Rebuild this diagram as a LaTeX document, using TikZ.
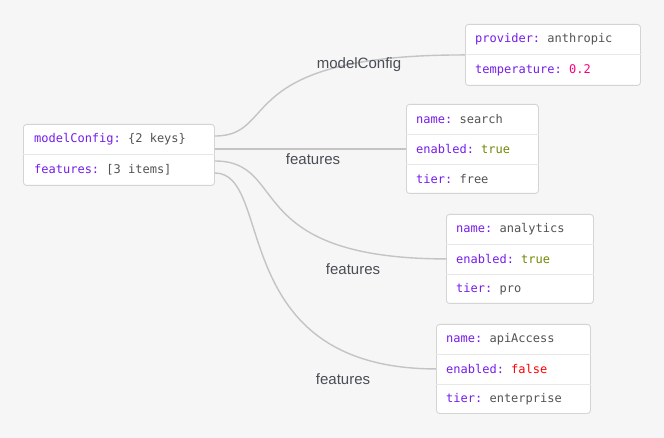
\documentclass[tikz,border=0pt]{standalone}
\usepackage{fontspec}
\setmainfont{Liberation Sans}
\setmonofont{DejaVu Sans Mono}

\definecolor{bgcol}{HTML}{F6F6F6}
\definecolor{keycol}{HTML}{761CEA}
\definecolor{valcol}{HTML}{535353}
\definecolor{truecol}{HTML}{748700}
\definecolor{falsecol}{HTML}{FF0000}
\definecolor{numcol}{HTML}{FD0079}
\definecolor{edgecol}{HTML}{C4C4C4}
\definecolor{labelcol}{HTML}{4A4D55}

\newcommand{\jkey}[1]{\textcolor{keycol}{#1}}
\newcommand{\jval}[1]{\textcolor{valcol}{#1}}

\begin{document}
\begin{tikzpicture}[x=1pt,y=-1pt,
  card/.style={draw=black!17, fill=white, rounded corners=3pt, line width=0.9pt,
    anchor=north west, inner sep=0pt},
  row/.style={anchor=west, inner sep=0pt, font=\ttfamily\fontsize{12}{14}\selectfont},
  divider/.style={draw=black!9, line width=0.8pt},
  edge/.style={draw=edgecol, line width=1.4pt},
  elabel/.style={text=labelcol, inner sep=0pt, font=\fontsize{15}{18}\selectfont}]

% Background
\fill[bgcol] (0,0) rectangle (664,438);

% Root object
\node[card, minimum width=191pt, minimum height=61pt] (root) at (23,124) {};
\draw[divider] (root.west |- 0,154) -- (root.east |- 0,154);
\node[row] (rootA) at (34,139) {\jkey{modelConfig:} \jval{\{2 keys\}}};
\node[row] (rootB) at (34,170) {\jkey{features:} \jval{[3 items]}};

% modelConfig object
\node[card, minimum width=175pt, minimum height=61pt] (prov) at (465,24) {};
\draw[divider] (prov.west |- 0,54) -- (prov.east |- 0,54);
\node[row] (provA) at (475,39) {\jkey{provider:} \jval{anthropic}};
\node[row] (provB) at (475,70) {\jkey{temperature:} \textcolor{numcol}{0.2}};

% features[0]
\node[card, minimum width=132pt, minimum height=89pt] (search) at (406,104) {};
\draw[divider] (search.west |- 0,134) -- (search.east |- 0,134);
\draw[divider] (search.west |- 0,164) -- (search.east |- 0,164);
\node[row] (searchA) at (416,119) {\jkey{name:} \jval{search}};
\node[row] (searchB) at (416,149) {\jkey{enabled:} \textcolor{truecol}{true}};
\node[row] (searchC) at (416,179) {\jkey{tier:} \jval{free}};

% features[1]
\node[card, minimum width=147pt, minimum height=89pt] (analytics) at (446,214) {};
\draw[divider] (analytics.west |- 0,244) -- (analytics.east |- 0,244);
\draw[divider] (analytics.west |- 0,274) -- (analytics.east |- 0,274);
\node[row] (analyticsA) at (456,229) {\jkey{name:} \jval{analytics}};
\node[row] (analyticsB) at (456,259) {\jkey{enabled:} \textcolor{truecol}{true}};
\node[row] (analyticsC) at (456,289) {\jkey{tier:} \jval{pro}};

% features[2]
\node[card, minimum width=154pt, minimum height=89pt] (api) at (436,324) {};
\draw[divider] (api.west |- 0,354) -- (api.east |- 0,354);
\draw[divider] (api.west |- 0,384) -- (api.east |- 0,384);
\node[row] (apiA) at (446,339) {\jkey{name:} \jval{apiAccess}};
\node[row] (apiB) at (446,369) {\jkey{enabled:} \textcolor{falsecol}{false}};
\node[row] (apiC) at (446,399) {\jkey{tier:} \jval{enterprise}};

% Edges
\draw[edge] (root.east |- 0,136) .. controls (280,136) and (230,54.5) .. (prov.west);
\draw[edge] (root.east |- search.west) -- (search.west);
\draw[edge] (root.east |- 0,161) .. controls (290,161) and (240,258.5) .. (analytics.west);
\draw[edge] (root.east |- 0,173) .. controls (275,173) and (225,368.5) .. (api.west);

% Edge labels
\node[elabel] (lab1) at (359,65) {modelConfig};
\node[elabel] (lab2) at (313,159) {features};
\node[elabel] (lab3) at (353,269) {features};
\node[elabel] (lab4) at (343,379) {features};

\end{tikzpicture}
\end{document}
